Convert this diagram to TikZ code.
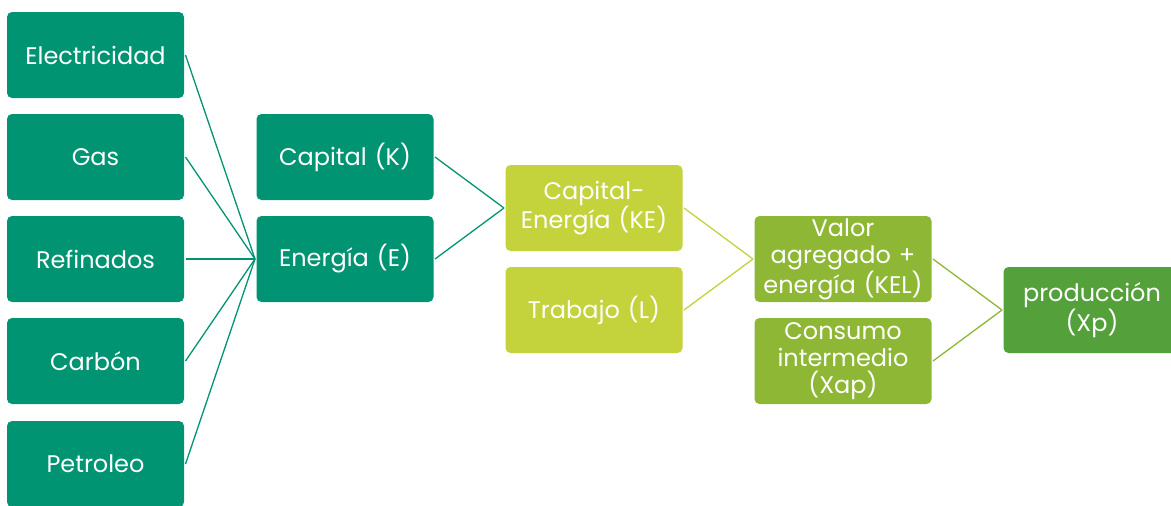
\documentclass[tikz,border=0pt]{standalone}
\usepackage{fontspec}
\setmainfont{Poppins}
\definecolor{cteal}{RGB}{0,148,115}
\definecolor{clime}{RGB}{196,210,60}
\definecolor{cgreen}{RGB}{141,183,53}
\definecolor{cdark}{RGB}{84,161,59}
\tikzset{
  box/.style={rectangle, rounded corners=5pt, minimum width=177pt, minimum height=86pt,
    inner sep=2pt, outer sep=1.5pt, text=white, align=center, text width=172pt,
    font=\fontsize{24}{27}\selectfont},
  tealbox/.style={box, fill=cteal},
  limebox/.style={box, fill=clime},
  greenbox/.style={box, fill=cgreen},
  darkbox/.style={box, fill=cdark},
  link/.style={line width=1.3pt},
}
\begin{document}
\begin{tikzpicture}[x=1pt,y=-1pt]
\useasboundingbox (0,0) rectangle (1171,506);
\clip (0,0) rectangle (1171,506);
\node[tealbox] (el) at (95.5,55) {Electricidad};
\node[tealbox] (gas) at (95.5,157) {Gas};
\node[tealbox] (ref) at (95.5,259) {Refinados};
\node[tealbox] (car) at (95.5,361) {Carbón};
\node[tealbox] (pet) at (95.5,464) {Petroleo};
\node[tealbox] (k) at (345,157) {Capital (K)};
\node[tealbox] (e) at (345,259) {Energía (E)};
\node[limebox] (ke) at (594,208) {Capital-\\Energía (KE)};
\node[limebox] (l) at (594,310) {Trabajo (L)};
\node[greenbox] (kel) at (843,259) {Valor\\agregado +\\energía (KEL)};
\node[greenbox] (xap) at (843,361) {Consumo\\intermedio\\(Xap)};
\node[darkbox] (xp) at (1092,310) {producción\\(Xp)};
\foreach \s in {el,gas,ref,car,pet} \draw[link, cteal] (\s.east) -- (e.west);
\draw[link, cteal] (k.east) -- (ke.west);
\draw[link, cteal] (e.east) -- (ke.west);
\draw[link, clime] (ke.east) -- (kel.west);
\draw[link, clime] (l.east) -- (kel.west);
\draw[link, cgreen] (kel.east) -- (xp.west);
\draw[link, cgreen] (xap.east) -- (xp.west);
\end{tikzpicture}
\end{document}
